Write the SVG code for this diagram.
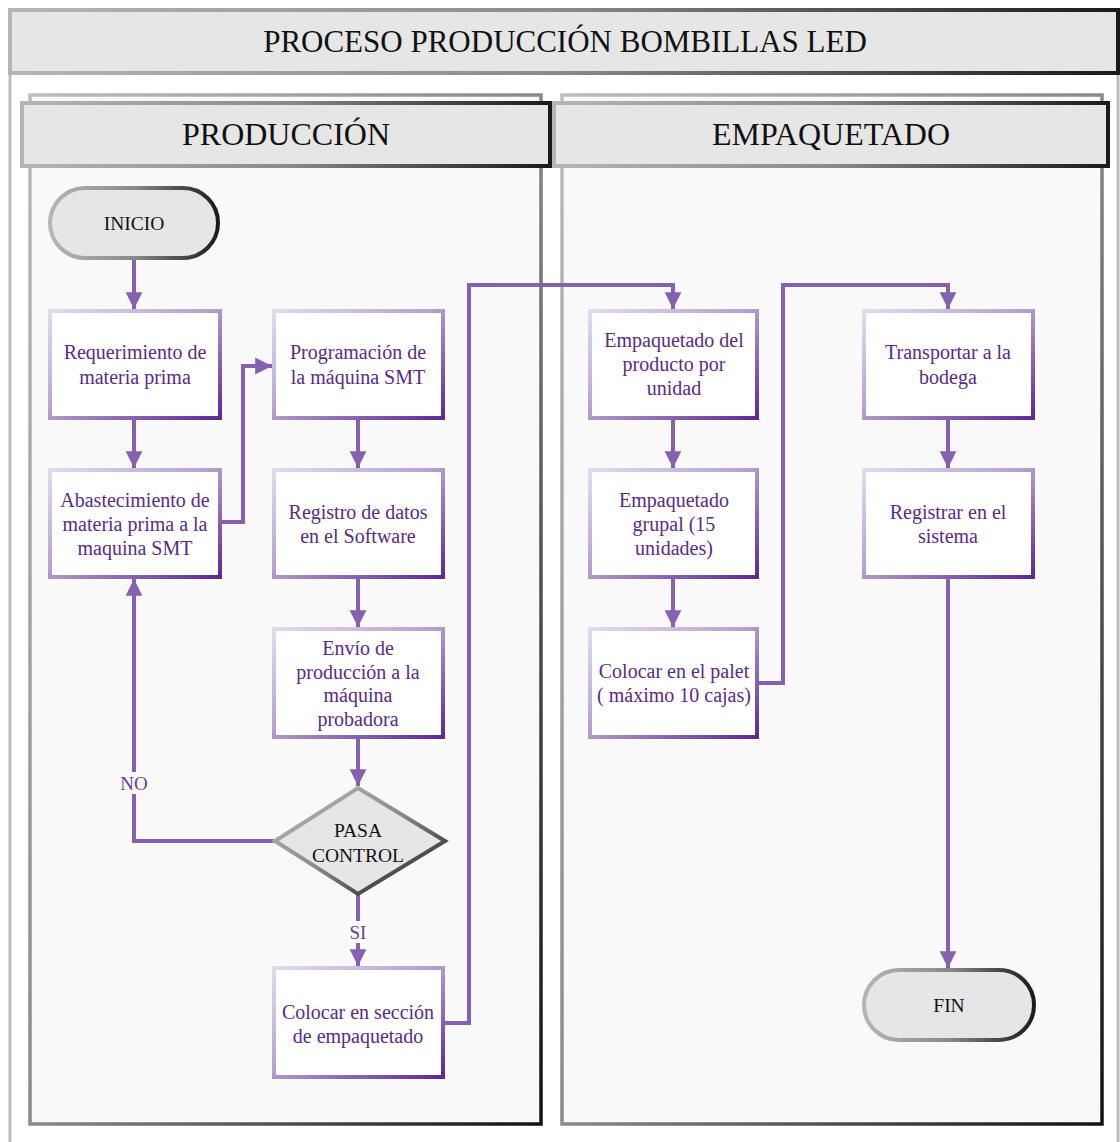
<svg xmlns="http://www.w3.org/2000/svg" width="1120" height="1142" viewBox="0 0 1120 1142">
<defs>
<linearGradient id="gGray" x1="0" y1="0" x2="1" y2="1">
<stop offset="0" stop-color="#bdbdbd"/><stop offset="0.5" stop-color="#8a8a8a"/><stop offset="1" stop-color="#111"/>
</linearGradient>
<linearGradient id="gGrayH" x1="0" y1="0" x2="1" y2="0">
<stop offset="0" stop-color="#b5b5b5"/><stop offset="0.5" stop-color="#8a8a8a"/><stop offset="1" stop-color="#1a1a1a"/>
</linearGradient>
<linearGradient id="gBox" x1="0" y1="0" x2="1" y2="1">
<stop offset="0" stop-color="#e2dbee"/><stop offset="0.45" stop-color="#b7a3d1"/><stop offset="1" stop-color="#5f2893"/>
</linearGradient>
<marker id="arr" markerWidth="5" markerHeight="5" refX="4.2" refY="2.5" orient="auto" markerUnits="strokeWidth">
<path d="M0,0.4 L4.2,2.5 L0,4.6 Z" fill="#8661b2"/>
</marker>
<style>
.lane{fill:#f9f9f9;stroke:url(#gGray);stroke-width:3.5}
.hdr{fill:#e6e6e6;stroke:url(#gGrayH);stroke-width:4}
.box{fill:#ffffff;stroke:url(#gBox);stroke-width:4}
.term{fill:#e6e6e6;stroke:url(#gGrayH);stroke-width:4}
.btxt{font-family:"Liberation Serif",serif;font-size:20px;fill:#5a2a8c;text-anchor:middle}
.ttxt{font-family:"Liberation Serif",serif;font-size:19.5px;fill:#111;text-anchor:middle}
.htxt{font-family:"Liberation Serif",serif;font-size:32px;fill:#111;text-anchor:middle}
.title{font-family:"Liberation Serif",serif;font-size:31px;fill:#111;text-anchor:middle}
.conn{fill:none;stroke:#8661b2;stroke-width:4}
.lbl{font-family:"Liberation Serif",serif;font-size:19px;fill:#6a3aa0;text-anchor:middle}
</style>
</defs>
<rect x="0" y="0" width="1120" height="1142" fill="#ffffff"/>
<g id="frame">
<rect x="10" y="10" width="1108" height="1145" fill="#ffffff" stroke="#bdbdbd" stroke-width="3"/>
<rect x="10" y="10" width="1108" height="63" class="hdr"/>
<text x="565" y="52" class="title">PROCESO PRODUCCIÓN BOMBILLAS LED</text>
</g>
<g id="lane-produccion">
<rect x="30" y="95" width="511" height="1029" class="lane"/>
<rect x="22" y="103" width="528" height="63" class="hdr"/>
<text x="286" y="145" class="htxt">PRODUCCIÓN</text>
</g>
<g id="lane-empaquetado">
<rect x="562" y="95" width="540" height="1029" class="lane"/>
<rect x="554" y="103" width="554" height="63" class="hdr"/>
<text x="831" y="145" class="htxt">EMPAQUETADO</text>
</g>
<g id="connectors">
<path class="conn" d="M134,258 V309" marker-end="url(#arr)"/>
<path class="conn" d="M134,418 V468" marker-end="url(#arr)"/>
<path class="conn" d="M220,522 H243 V366 H272" marker-end="url(#arr)"/>
<path class="conn" d="M358,418 V468" marker-end="url(#arr)"/>
<path class="conn" d="M358,577 V627" marker-end="url(#arr)"/>
<path class="conn" d="M358,737 V786" marker-end="url(#arr)"/>
<path class="conn" d="M275,841 H134 V579" marker-end="url(#arr)"/>
<path class="conn" d="M358,894 V966" marker-end="url(#arr)"/>
<path class="conn" d="M443,1023 H469 V285 H673 V309" marker-end="url(#arr)"/>
<path class="conn" d="M673,418 V468" marker-end="url(#arr)"/>
<path class="conn" d="M673,577 V627" marker-end="url(#arr)"/>
<path class="conn" d="M757,683 H783 V285 H948 V309" marker-end="url(#arr)"/>
<path class="conn" d="M948,418 V468" marker-end="url(#arr)"/>
<path class="conn" d="M948,577 V968" marker-end="url(#arr)"/>
<rect x="117" y="772" width="34" height="22" fill="#f9f9f9"/>
<text x="134" y="790" class="lbl">NO</text>
<rect x="348" y="921" width="20" height="22" fill="#ffffff"/>
<text x="358" y="939" class="lbl">SI</text>
</g>
<g id="inicio">
<rect x="50" y="188" width="168" height="70" rx="35" class="term"/>
<text x="134" y="230" class="ttxt">INICIO</text>
</g>
<g id="requerimiento">
<rect x="50" y="311" width="170" height="107" class="box"/>
<text x="135" y="359" class="btxt">Requerimiento de</text>
<text x="135" y="384" class="btxt">materia prima</text>
</g>
<g id="abastecimiento">
<rect x="50" y="470" width="170" height="107" class="box"/>
<text x="135" y="507" class="btxt">Abastecimiento de</text>
<text x="135" y="531" class="btxt">materia prima a la</text>
<text x="135" y="555" class="btxt">maquina SMT</text>
</g>
<g id="programacion">
<rect x="274" y="311" width="169" height="107" class="box"/>
<text x="358" y="359" class="btxt">Programación de</text>
<text x="358" y="384" class="btxt">la máquina SMT</text>
</g>
<g id="registro-datos">
<rect x="274" y="470" width="169" height="107" class="box"/>
<text x="358" y="519" class="btxt">Registro de datos</text>
<text x="358" y="543" class="btxt">en el Software</text>
</g>
<g id="envio">
<rect x="274" y="629" width="169" height="108" class="box"/>
<text x="358" y="655" class="btxt">Envío de</text>
<text x="358" y="679" class="btxt">producción a la</text>
<text x="358" y="702" class="btxt">máquina</text>
<text x="358" y="726" class="btxt">probadora</text>
</g>
<g id="pasa-control">
<polygon points="358,788 445,841 358,894 275,841" fill="#e6e6e6" stroke="url(#gGray)" stroke-width="4" stroke-linejoin="miter"/>
<text x="358" y="837" class="ttxt">PASA</text>
<text x="358" y="862" class="ttxt">CONTROL</text>
</g>
<g id="colocar-seccion">
<rect x="274" y="968" width="169" height="109" class="box"/>
<text x="358" y="1019" class="btxt">Colocar en sección</text>
<text x="358" y="1043" class="btxt">de empaquetado</text>
</g>
<g id="empaquetado-unidad">
<rect x="590" y="311" width="167" height="107" class="box"/>
<text x="674" y="347" class="btxt">Empaquetado del</text>
<text x="674" y="371" class="btxt">producto por</text>
<text x="674" y="395" class="btxt">unidad</text>
</g>
<g id="empaquetado-grupal">
<rect x="590" y="470" width="167" height="107" class="box"/>
<text x="674" y="507" class="btxt">Empaquetado</text>
<text x="674" y="531" class="btxt">grupal (15</text>
<text x="674" y="555" class="btxt">unidades)</text>
</g>
<g id="colocar-palet">
<rect x="590" y="629" width="167" height="108" class="box"/>
<text x="674" y="678" class="btxt">Colocar en el palet</text>
<text x="674" y="702" class="btxt">( máximo 10 cajas)</text>
</g>
<g id="transportar">
<rect x="864" y="311" width="169" height="107" class="box"/>
<text x="948" y="359" class="btxt">Transportar a la</text>
<text x="948" y="384" class="btxt">bodega</text>
</g>
<g id="registrar-sistema">
<rect x="864" y="470" width="169" height="107" class="box"/>
<text x="948" y="519" class="btxt">Registrar en el</text>
<text x="948" y="543" class="btxt">sistema</text>
</g>
<g id="fin">
<rect x="864" y="970" width="170" height="70" rx="35" class="term"/>
<text x="949" y="1012" class="ttxt">FIN</text>
</g>
</svg>
